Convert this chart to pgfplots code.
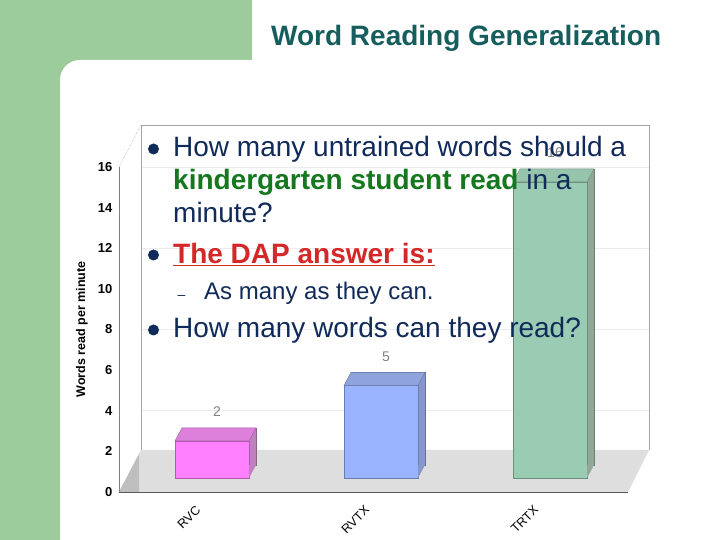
\documentclass[border=0pt]{standalone}
\usepackage{pgfplots}
\pgfplotsset{compat=1.18}
\usepackage{fontspec}
\setmainfont{Liberation Sans}

\definecolor{slidegreen}{RGB}{156,204,156}
\definecolor{titleteal}{RGB}{22,94,94}
\definecolor{navy}{RGB}{16,42,90}
\definecolor{kgreen}{RGB}{22,120,30}
\definecolor{dapred}{RGB}{212,40,40}
\definecolor{wallgray}{RGB}{165,165,165}
\definecolor{gridc}{RGB}{236,236,236}
\definecolor{floorgray}{RGB}{222,222,222}
\definecolor{floordark}{RGB}{190,190,190}
\definecolor{axisdark}{RGB}{90,90,90}
\definecolor{labelgray}{RGB}{128,128,128}
% bar faces: front, top, side
\definecolor{rvcF}{RGB}{255,128,255}
\definecolor{rvcT}{RGB}{220,128,220}
\definecolor{rvcS}{RGB}{190,128,190}
\definecolor{rvtxF}{RGB}{153,179,255}
\definecolor{rvtxT}{RGB}{143,163,221}
\definecolor{rvtxS}{RGB}{136,150,204}
\definecolor{trtxF}{RGB}{153,204,179}
\definecolor{trtxT}{RGB}{150,196,172}
\definecolor{trtxS}{RGB}{145,168,152}

% top face of a bar, drawn at the top front centre of it
\pgfdeclareplotmark{topface}{%
  \pgfpathmoveto{\pgfpoint{-37pt}{0pt}}%
  \pgfpathlineto{\pgfpoint{37pt}{0pt}}%
  \pgfpathlineto{\pgfpoint{44pt}{13pt}}%
  \pgfpathlineto{\pgfpoint{-30pt}{13pt}}%
  \pgfpathclose
  \pgfusepathqfillstroke}
% lower corner of the side face, drawn at the foot of a bar
\pgfdeclareplotmark{sidefoot}{%
  \pgfpathmoveto{\pgfpoint{37pt}{0pt}}%
  \pgfpathlineto{\pgfpoint{44pt}{13pt}}%
  \pgfpathlineto{\pgfpoint{37pt}{13pt}}%
  \pgfpathclose
  \pgfusepathqfill}

% x, value, front, top, side
\newcommand{\threedbar}[5]{%
  \addplot[ybar, bar width=74pt, bar shift=0pt, fill=#5, draw=#5!75!black,
    line width=0.5pt, xshift=7pt, yshift=13pt] coordinates {(#1,#2)};
  \addplot[only marks, mark=sidefoot, mark options={fill=#5}] coordinates {(#1,0)};
  \addplot[ybar, bar width=74pt, bar shift=0pt, fill=#3, draw=#3!70!black,
    line width=0.5pt] coordinates {(#1,#2)};
  \addplot[only marks, mark=topface, mark options={fill=#4, draw=#4!75!black, line width=0.5pt},
    nodes near coords,
    every node near coord/.append style={anchor=center, xshift=5pt, yshift=29pt,
      text=labelgray, font=\fontsize{14}{14}\selectfont}]
    coordinates {(#1,#2)};
}

\begin{document}
\begin{tikzpicture}[x=1pt, y=1pt]
\clip (0pt,0pt) rectangle (720pt,540pt);
\fill[white] (0pt,0pt) rectangle (720pt,540pt);

\begin{scope}[shift={(0pt,540pt)}, x=1pt, y=-1pt]
  % slide background
  \fill[slidegreen] (0,-10) rectangle (252,550);
  \fill[white, rounded corners=20pt] (60,60) rectangle (800,600);
  \fill[white] (252,-10) rectangle (730,61);
  \node[anchor=base west, inner sep=0pt, text=titleteal,
    font=\bfseries\fontsize{28}{28}\selectfont] at (271,46) {Word Reading Generalization};

  % 3D frame of the chart
  \fill[white] (141,125) rectangle (649,450);
  \foreach \gy in {167,248,329,410} \draw[gridc, line width=0.6pt] (141,\gy) -- (649,\gy);
  \fill[floorgray] (119,492) -- (141,450) -- (649,450) -- (628,492) -- cycle;
  \fill[floordark] (119,492) -- (139,454) -- (139,492) -- cycle;
  \draw[wallgray, line width=0.6pt] (141,450) -- (141,125) -- (649,125) -- (649,450);
  \draw[wallgray, densely dotted, line width=0.5pt] (119,167) -- (141,125);
\end{scope}

% front value axis
\begin{axis}[
  at={(119pt,48pt)}, anchor=south west,
  x=509pt, y=20.3125pt,
  xmin=0, xmax=1, ymin=0, ymax=16,
  axis x line=bottom, axis y line=left,
  axis line style={-},
  x axis line style={draw=axisdark, line width=0.8pt},
  y axis line style={draw=gray, line width=0.6pt},
  xtick=\empty,
  ytick={0,2,...,16},
  ytick style={draw=none},
  yticklabel style={font=\bfseries\fontsize{13}{13}\selectfont, anchor=east, xshift=-1pt},
  /pgf/number format/assume math mode=true,
  ylabel={Words read per minute},
  every axis y label/.style={at={(axis description cs:-0.0727,0.5)}, rotate=90,
    anchor=center, font=\bfseries\fontsize{12.5}{12.5}\selectfont},
  clip=false,
]
\end{axis}

% bars
\begin{axis}[
  at={(127.5pt,62pt)}, anchor=south west,
  x=169pt, y=18.5pt,
  xmin=-0.5, xmax=2.5, ymin=0, ymax=17,
  enlargelimits=false, clip=false,
  axis line style={draw=none},
  tick style={draw=none},
  ytick=\empty,
  xtick={0,1,2},
  xticklabels={RVC,RVTX,TRTX},
  xticklabel style={font=\fontsize{12.5}{12.5}\selectfont, anchor=north east,
    xshift=-17pt, yshift=-22pt, rotate=45},
  /pgf/number format/assume math mode=true,
]
\threedbar{0}{2}{rvcF}{rvcT}{rvcS}
\threedbar{1}{5}{rvtxF}{rvtxT}{rvtxS}
\threedbar{2}{16}{trtxF}{trtxT}{trtxS}
\end{axis}

% slide text over the chart
\begin{scope}[shift={(0pt,540pt)}, x=1pt, y=-1pt]
  \fill[navy] (153.5,149) circle (5.5);
  \fill[navy] (153.5,255) circle (5.5);
  \fill[navy] (153.5,330) circle (5.5);
  \begin{scope}[every node/.style={anchor=base west, inner sep=0pt, text=navy,
      font=\fontsize{28}{28}\selectfont}]
    \node at (173,157) {How many untrained words should a};
    \node at (173,190) {{\color{kgreen}\bfseries kindergarten student read} in a};
    \node at (173,223) {minute?};
    \node[text=dapred, font=\bfseries\fontsize{28}{28}\selectfont] at (173,264) {\underline{The DAP answer is:}};
    \node[font=\fontsize{14}{14}\selectfont] at (177.5,300) {–};
    \node[font=\fontsize{24}{24}\selectfont] at (204,300) {As many as they can.};
    \node at (173,338) {How many words can they read?};
  \end{scope}
\end{scope}
\end{tikzpicture}
\end{document}
